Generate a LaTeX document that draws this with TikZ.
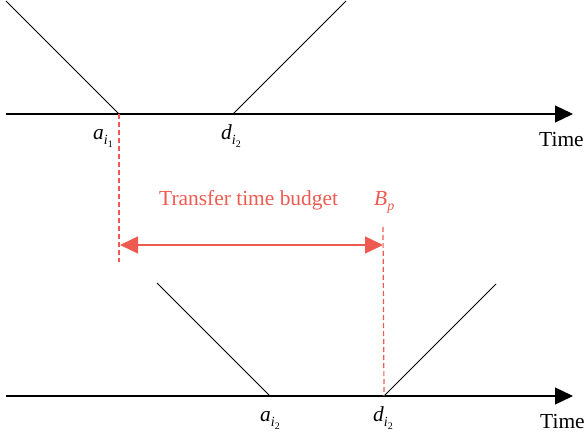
\documentclass[tikz,border=0pt]{standalone}
\usepackage{fontspec}
\setmainfont{Liberation Serif}
\usepackage{xcolor}
\usetikzlibrary{arrows.meta}
\definecolor{budgetred}{HTML}{EE5A50}
% italic label with nested subscript
\newcommand{\evlabel}[2]{\textit{#1}\raisebox{-5bp}{\fontsize{14}{16}\selectfont\textit{i}\raisebox{-3bp}{\fontsize{10}{12}\selectfont #2}}}

\begin{document}
\begin{tikzpicture}[x=1bp, y=-1bp,
  axis/.style={black, line width=1.2bp, -{Triangle[length=18bp,width=17bp]}},
  slope/.style={black, line width=0.9bp},
  marker/.style={budgetred, line width=1.2bp, dash pattern=on 5bp off 3bp},
  span/.style={budgetred, line width=1.4bp, {Triangle[length=18bp,width=17bp]}-{Triangle[length=18bp,width=17bp]}},
  lbl/.style={inner sep=0pt, anchor=base west, font=\fontsize{21.5}{25}\selectfont}]
\useasboundingbox (0,0) rectangle (584,439);
% upper time line
\coordinate (upstart) at (6,114);
\coordinate (upend) at (573,114);
\coordinate (ai1) at (119,114);
\coordinate (di2up) at (233,114);
\coordinate (upleft) at (6,1);
\coordinate (upright) at (346,1);
\draw[axis] (upstart) -- (upend);
\draw[slope] (upleft) -- (ai1);
\draw[slope] (di2up) -- (upright);
\node[lbl] (lai1) at (93,140) {\evlabel{a}{1}};
\node[lbl] (ldi2up) at (221,140) {\evlabel{d}{2}};
\node[lbl] (ltimeup) at (539,147) {Time};
% budget
\coordinate (ai1low) at (119,262);
\coordinate (bptop) at (383,227);
\coordinate (spanleft) at (120,245);
\coordinate (spanright) at (383,245);
\draw[marker] (ai1) -- (ai1low);
\draw[span] (spanleft) -- (spanright);
\node[lbl, text=budgetred] (lbudget) at (159,206) {Transfer time budget};
\node[lbl, text=budgetred] (lbp) at (374,206) {\textit{B}\raisebox{-5bp}{\fontsize{14}{16}\selectfont\textit{p}}};
% lower time line
\coordinate (lowstart) at (6,396);
\coordinate (lowend) at (573,396);
\coordinate (ai2) at (270,396);
\coordinate (di2low) at (384,396);
\coordinate (lowleft) at (157,283);
\coordinate (lowright) at (496,284);
\draw[axis] (lowstart) -- (lowend);
\draw[slope] (lowleft) -- (ai2);
\draw[slope] (di2low) -- (lowright);
\draw[marker] (bptop) -- (di2low);
\node[lbl] (lai2) at (260,421) {\evlabel{a}{2}};
\node[lbl] (ldi2low) at (373,421) {\evlabel{d}{2}};
\node[lbl] (ltimelow) at (540,428) {Time};
\end{tikzpicture}
\end{document}
